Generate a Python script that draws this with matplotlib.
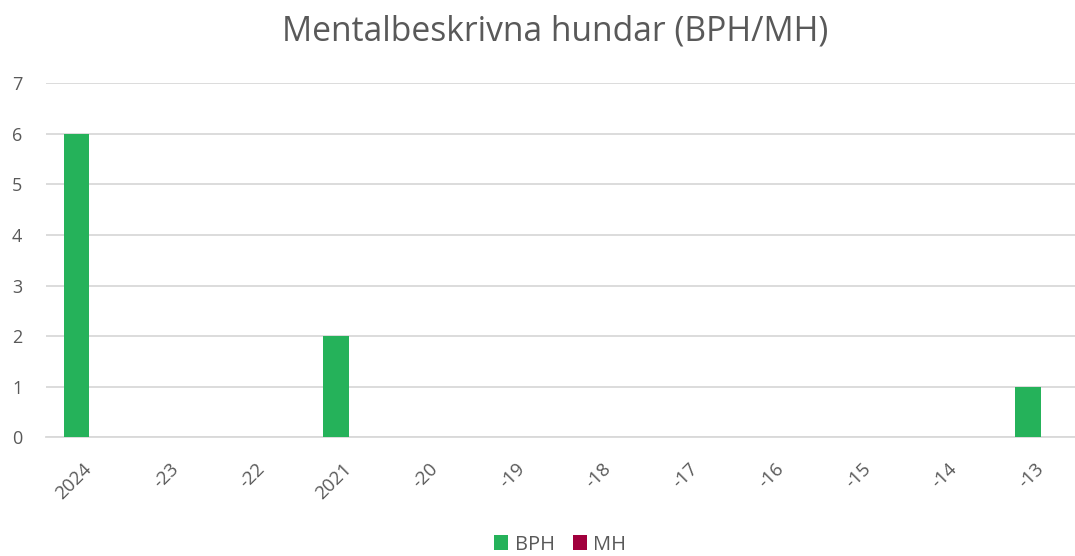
import numpy as np
import matplotlib.pyplot as plt

plt.rcParams['font.family'] = ['Open Sans', 'DejaVu Sans']

years = ['2024', '-23', '-22', '2021', '-20', '-19', '-18', '-17', '-16', '-15', '-14', '-13']
bph = [6, 0, 0, 2, 0, 0, 0, 0, 0, 0, 0, 1]
mh = [0, 0, 0, 0, 0, 0, 0, 0, 0, 0, 0, 0]
yticks = [0, 1, 2, 3, 4, 5, 6, 7]

green = '#25B25A'
maroon = '#A1003D'
grey = '#595959'

fig = plt.figure(figsize=(10.75, 5.56), dpi=100)
ax = fig.add_axes([46 / 1075, 1 - 437.3 / 556, 1038 / 1075, 354 / 556])

x = np.arange(len(years))
w = 0.295
ax.bar(x - w / 2, bph, width=w, color=green, label='BPH', zorder=3)
ax.bar(x + w / 2, mh, width=w, color=maroon, label='MH', zorder=3)

ax.set_xlim(-0.5, len(years) - 0.5)
ax.set_ylim(0, 7)
ax.set_yticks(yticks)
ax.yaxis.grid(True, color='#D9D9D9', linewidth=1.3, zorder=0)
ax.set_axisbelow(True)
for s in ['top', 'right', 'left']:
    ax.spines[s].set_visible(False)
ax.spines['bottom'].set_color('#D9D9D9')
ax.spines['bottom'].set_linewidth(1.3)
ax.tick_params(axis='both', length=0, colors=grey, labelsize=13)
ax.tick_params(axis='y', pad=17)
ax.set_xticks(x)
ax.set_xticklabels(years, rotation=45, ha='right', va='center', rotation_mode='anchor', fontsize=13.5)
ax.tick_params(axis='x', pad=21)

fig.suptitle('Mentalbeskrivna hundar (BPH/MH)', x=0.516, y=0.974, fontsize=24.2, color=grey)

fig.legend(loc='lower center', bbox_to_anchor=(0.521, -0.03), ncol=2, frameon=False,
           fontsize=14.5, handlelength=0.7, handleheight=0.7, handletextpad=0.3,
           columnspacing=0.9, labelcolor=grey)

plt.savefig('out.png')
